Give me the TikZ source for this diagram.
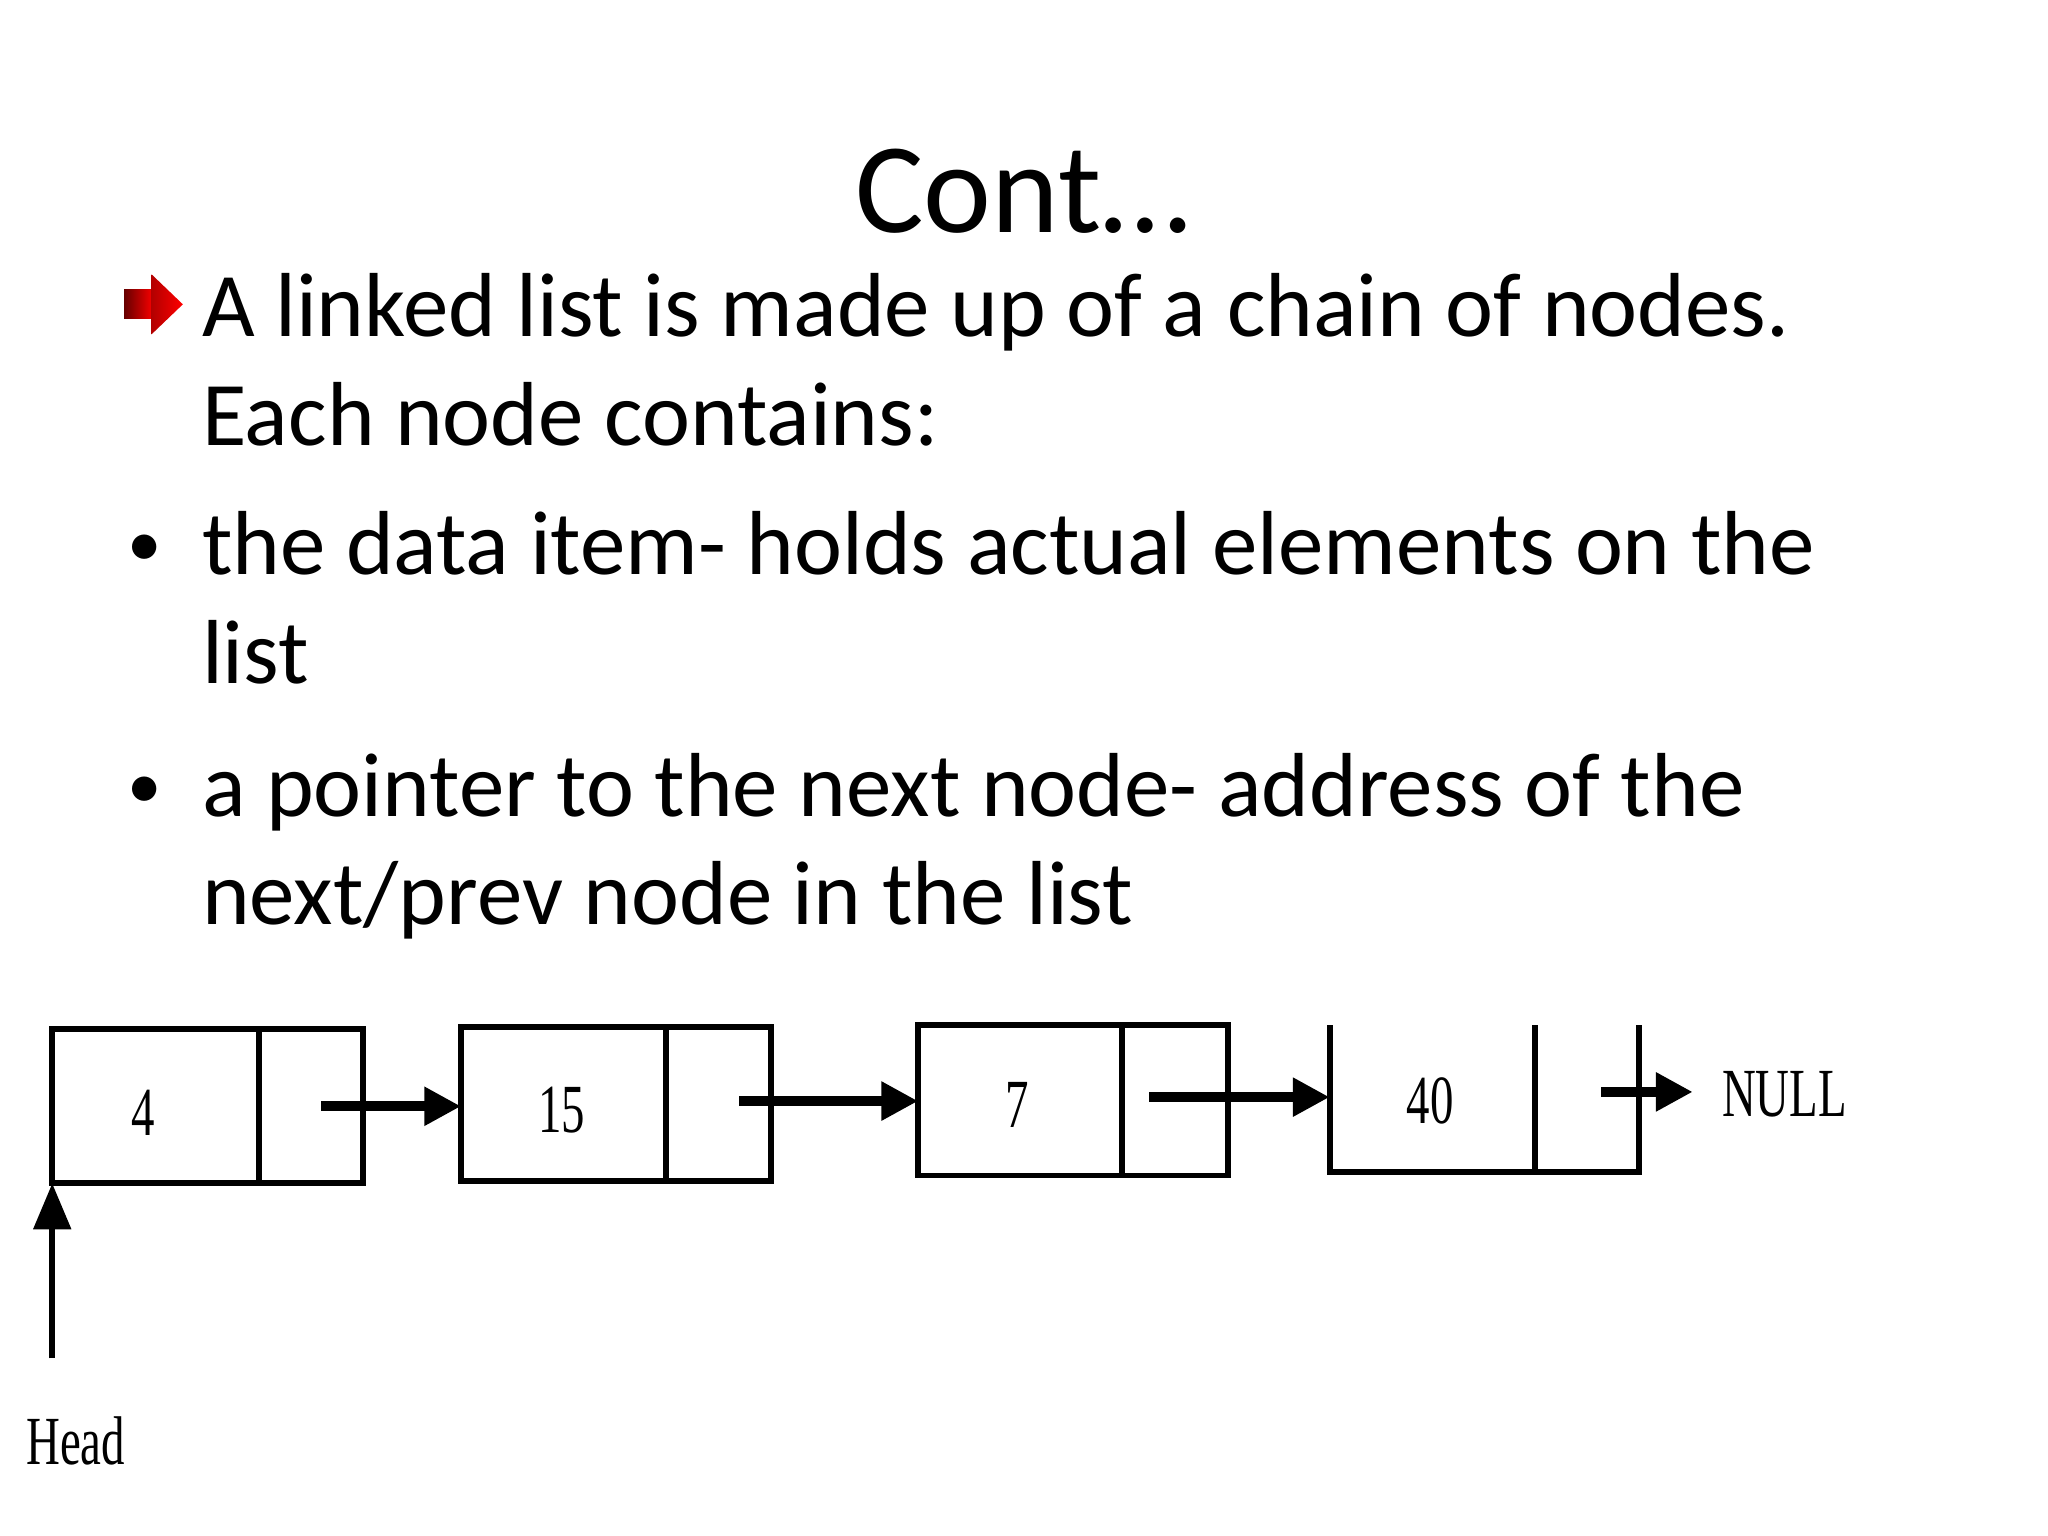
\documentclass[tikz,border=0pt]{standalone}
\usepackage{fontspec}
\setmainfont{Carlito}
\newfontfamily\tms{Liberation Serif}
\usetikzlibrary{arrows.meta}
\begin{document}
\begin{tikzpicture}[x=0.01cm,y=-0.01cm,
  body/.style={anchor=base west,inner sep=0pt,font=\fontsize{19.8}{24}\selectfont},
  box/.style={line width=1.3pt},
  ptr/.style={line width=2.2pt,-{Triangle[length=8pt,width=8pt]}},
  num/.style={font=\tms\fontsize{15}{18}\selectfont,inner sep=0pt,xscale=0.68}]
\useasboundingbox (0,0) rectangle (1568,1176);
\node[anchor=base,inner sep=0pt,font=\fontsize{28}{32}\selectfont] (title) at (783,178) {Cont…};
% red arrow bullet
\shade[left color=red!40!black,right color=red] (95,222) rectangle (118,244);
\shade[left color=red!70!black,right color=red] (116,210) -- (140,233) -- (116,256) -- cycle;
\node[body] (l1) at (154,258) {A linked list is made up of a chain of nodes.};
\node[body] (l2) at (154,341) {Each node contains:};
\node[body,font=\fontsize{15}{18}\selectfont] (b1) at (97,434) {•};
\node[body] (l3) at (154,440) {the data item- holds actual elements on the};
\node[body] (l4) at (154,523) {list};
\node[body,font=\fontsize{15}{18}\selectfont] (b2) at (97,619) {•};
\node[body] (l5) at (154,625) {a pointer to the next node- address of the};
\node[body] (l6) at (154,708) {next/prev node in the list};
% boxes
\draw[box] (40,788) rectangle (278,906); \draw[box] (198,788) -- (198,906);
\draw[box] (353,786) rectangle (590,904); \draw[box] (510,786) -- (510,904);
\draw[box] (703,785) rectangle (940,900); \draw[box] (859,785) -- (859,900);
\draw[box] (1018,785) -- (1018,897) -- (1255,897) -- (1255,785); \draw[box] (1175,785) -- (1175,897);
\node[num] (n1) at (110,852) {4};
\node[num] (n2) at (430,850) {15};
\node[num] (n3) at (779,846) {7};
\node[num] (n4) at (1095,843) {40};
\coordinate (p1) at (246,847); \coordinate (q1) at (353,847);
\coordinate (p2) at (566,843); \coordinate (q2) at (703,843);
\coordinate (p3) at (880,840); \coordinate (q3) at (1018,840);
\coordinate (p4) at (1226,836); \coordinate (q4) at (1296,836);
\draw[ptr] (p1) -- (q1);
\draw[ptr] (p2) -- (q2);
\draw[ptr] (p3) -- (q3);
\draw[ptr] (p4) -- (q4);
\node[num,anchor=west] (null) at (1318,838) {NULL};
\coordinate (h0) at (40,1040); \coordinate (h1) at (40,906);
\draw[line width=1.3pt,-{Triangle[length=10pt,width=8pt]}] (h0) -- (h1);
\node[num] (head) at (58,1103) {Head};
\end{tikzpicture}
\end{document}
